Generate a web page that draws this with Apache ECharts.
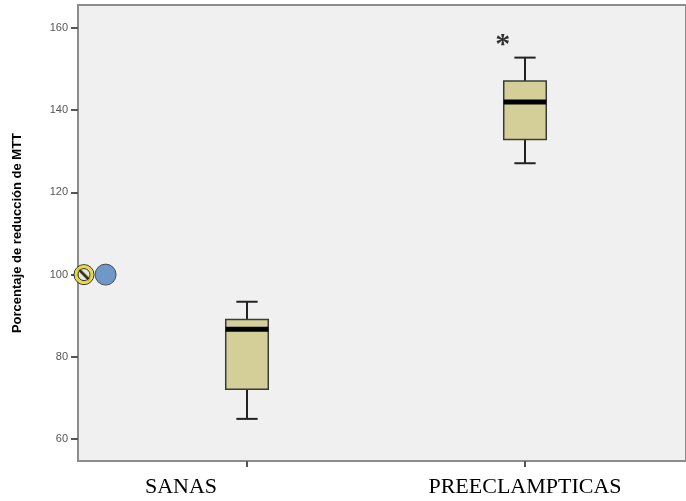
<!DOCTYPE html>
<html>
<head>
<meta charset="utf-8">
<script src="https://cdn.jsdelivr.net/npm/echarts@6/dist/echarts.min.js"></script>
<style>html,body{margin:0;padding:0;background:#fff}#c{width:686px;height:501px}</style>
</head>
<body>
<div id="c"></div>
<script>
var categories = ['SANAS', 'PREECLAMPTICAS'];
var whiskerLow = [64.9, 127.1];
var quartile1 = [72.1, 132.9];
var median = [86.7, 142.0];
var quartile3 = [89.1, 147.1];
var whiskerHigh = [93.4, 152.8];
var extremes = [[0.945, 157.4]];
var refPointHatched = [[-0.586, 100]];
var refPointBlue = [[-0.507, 100]];
var yTicks = [60, 80, 100, 120, 140, 160];
var yMin = 54.65, yMax = 165.6;
var yTitle = 'Porcentaje de reducción de MTT';

var boxData = categories.map(function (c, i) {
  return [i, whiskerLow[i], quartile1[i], median[i], quartile3[i], whiskerHigh[i]];
});

function renderBox(params, api) {
  var x = api.value(0);
  var lo = api.coord([x, api.value(1)]);
  var q1 = api.coord([x, api.value(2)]);
  var md = api.coord([x, api.value(3)]);
  var q3 = api.coord([x, api.value(4)]);
  var hi = api.coord([x, api.value(5)]);
  var band = api.size([1, 0])[0];
  var bw = band * 0.153, cw = bw / 2, cx = lo[0];
  var ls = {stroke: '#222', lineWidth: 2};
  return {type: 'group', children: [
    {type: 'line', shape: {x1: cx, y1: lo[1], x2: cx, y2: q1[1]}, style: ls},
    {type: 'line', shape: {x1: cx, y1: q3[1], x2: cx, y2: hi[1]}, style: ls},
    {type: 'line', shape: {x1: cx - cw / 2, y1: lo[1], x2: cx + cw / 2, y2: lo[1]}, style: ls},
    {type: 'line', shape: {x1: cx - cw / 2, y1: hi[1], x2: cx + cw / 2, y2: hi[1]}, style: ls},
    {type: 'rect', shape: {x: cx - bw / 2, y: q3[1], width: bw, height: q1[1] - q3[1]},
      style: {fill: '#d4cf98', stroke: '#3a3a3a', lineWidth: 1.5}},
    {type: 'line', shape: {x1: cx - bw / 2, y1: md[1], x2: cx + bw / 2, y2: md[1]},
      style: {stroke: '#000', lineWidth: 5}}
  ]};
}

var chart = echarts.init(document.getElementById('c'), null, {renderer: 'canvas'});
chart.setOption({
  animation: false,
  grid: [
    {left: 78, top: 5, right: -10, bottom: 40, show: true, backgroundColor: '#f0f0f0',
      borderColor: '#8c8c8c', borderWidth: 2},
    {left: 108, top: 5, right: 22, bottom: 40}
  ],
  xAxis: [
    {gridIndex: 0, type: 'value', min: -0.6079, max: 1.6151, show: false},
    {gridIndex: 1, type: 'category', data: categories, boundaryGap: true,
      axisLine: {show: false},
      axisTick: {show: true, alignWithLabel: true, length: 6, lineStyle: {color: '#555', width: 2}},
      axisLabel: {interval: 0, hideOverlap: false, margin: 15, color: '#000', fontSize: 22, fontFamily: 'Liberation Serif',
        formatter: function (v) { return v === 'SANAS' ? '{l|' + v + '}' : '{n|' + v + '}'; },
        rich: {
          l: {fontSize: 22, fontFamily: 'Liberation Serif', color: '#000', padding: [0, 132, 0, 0]},
          n: {fontSize: 22, fontFamily: 'Liberation Serif', color: '#000'}
        }}
    }
  ],
  yAxis: [
    {gridIndex: 0, type: 'value', min: yMin, max: yMax, show: false},
    {gridIndex: 1, type: 'value', min: yMin, max: yMax, offset: 30,
      name: yTitle, nameLocation: 'middle', nameGap: 54,
      nameTextStyle: {fontSize: 13, fontWeight: 'bold', color: '#000', fontFamily: 'Liberation Sans'},
      axisLine: {show: false},
      splitLine: {show: false},
      axisTick: {show: true, customValues: yTicks, length: 7, lineStyle: {color: '#555', width: 2}},
      axisLabel: {customValues: yTicks, margin: 10, fontSize: 11, color: '#555', fontFamily: 'Liberation Sans'}
    }
  ],
  series: [
    {type: 'custom', xAxisIndex: 1, yAxisIndex: 1, renderItem: renderBox, data: boxData, clip: false},
    {type: 'scatter', xAxisIndex: 0, yAxisIndex: 0, data: refPointBlue, symbol: 'circle', symbolSize: 21,
      itemStyle: {color: '#4f81bd', borderColor: '#333', borderWidth: 1}},
    {type: 'scatter', xAxisIndex: 0, yAxisIndex: 0, data: refPointHatched, symbol: 'circle', symbolSize: 20,
      itemStyle: {color: '#e6e6de', borderColor: '#000', borderWidth: 1}},
    {type: 'scatter', xAxisIndex: 0, yAxisIndex: 0, data: refPointHatched, symbol: 'circle', symbolSize: 16,
      itemStyle: {color: 'rgba(0,0,0,0)', borderColor: '#e8d800', borderWidth: 2.5}},
    {type: 'scatter', xAxisIndex: 0, yAxisIndex: 0, data: refPointHatched, symbol: 'circle', symbolSize: 12,
      itemStyle: {color: 'rgba(0,0,0,0)', borderColor: '#000', borderWidth: 1}},
    {type: 'scatter', xAxisIndex: 0, yAxisIndex: 0, data: refPointHatched, symbol: 'rect', symbolSize: [3, 15],
      symbolRotate: 45, itemStyle: {color: '#000', borderColor: '#e8d800', borderWidth: 1}},
    {type: 'scatter', xAxisIndex: 0, yAxisIndex: 0, data: extremes, symbolSize: 1,
      itemStyle: {color: 'rgba(0,0,0,0)'},
      label: {show: true, position: 'inside', formatter: '*', fontSize: 30, fontFamily: 'Liberation Serif',
        fontWeight: 'bold', color: '#000', offset: [0, 7]}}
  ]
});
</script>
</body>
</html>
